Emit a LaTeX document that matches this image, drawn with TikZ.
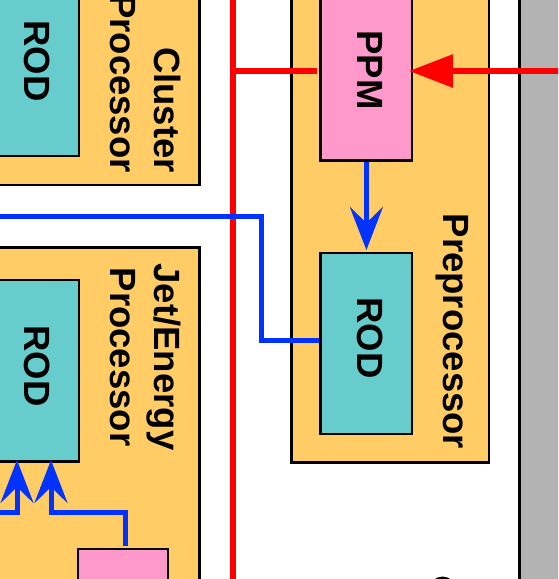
\documentclass[tikz,border=0pt]{standalone}
\usepackage{fontspec}
\setsansfont{Liberation Sans}
\usetikzlibrary{arrows.meta,positioning}
\definecolor{procorange}{HTML}{FFCC66}
\definecolor{rodteal}{HTML}{66CCCC}
\definecolor{ppmpink}{HTML}{FF99CC}
\definecolor{busred}{HTML}{FF0000}
\definecolor{readblue}{HTML}{0033FF}
\definecolor{crategray}{HTML}{B3B3B3}

\begin{document}
\begin{tikzpicture} [
    x=1pt, y=-1pt,
    box/.style={rectangle, draw=black, line width=2.8pt, inner sep=0pt, outer sep=0pt},
    orangebox/.style={box, fill=procorange},
    tealbox/.style={box, fill=rodteal},
    pinkbox/.style={box, fill=ppmpink},
    lbl/.style={rotate=-90, inner sep=0pt, font=\sffamily\bfseries\fontsize{36.5}{44}\selectfont},
    redbus/.style={draw=busred, line width=6pt},
    bluebus/.style={draw=readblue, line width=5pt},
    >={Stealth[length=43pt, width=33pt, inset=16pt]}
    ]
    \useasboundingbox (0,0) rectangle (558,579);
    \clip (0,0) rectangle (558,579);
    %Nodes
    \node[orangebox, minimum width=219.5pt, minimum height=205pt]   (clproc)  at (89.75,82.5)    {};
    \node[tealbox,   minimum width=99pt,    minimum height=176pt]   (clrod)   at (29.5,68)       {};
    \node[orangebox, minimum width=219.5pt, minimum height=352.5pt] (jetproc) at (89.75,423.75)  {};
    \node[tealbox,   minimum width=99pt,    minimum height=181.5pt] (jetrod)  at (29.5,370.75)   {};
    \node[pinkbox,   minimum width=90pt,    minimum height=71pt]    (jetmod)  at (123,584.5)     {};
    \node[orangebox, minimum width=197.7pt, minimum height=482.5pt] (preproc) at (390.15,221.25) {};
    \node[pinkbox,   minimum width=91.2pt,  minimum height=179pt]   (ppm)     at (366.4,71)      {};
    \node[tealbox,   minimum width=91.2pt,  minimum height=181pt]   (pprod)   at (366.4,343.5)   {};
    \node[box, fill=crategray, minimum width=80pt, minimum height=620pt] (crate) at (559.7,290) {};
    \draw[line width=2.5pt] (442.5,590.3) circle[radius=12.5pt];
    %Labels
    \node[lbl, anchor=base] (clrodlbl)  at (24.5,61)  {ROD};
    \node[lbl, anchor=base] (jetrodlbl) at (24.5,366) {ROD};
    \node[lbl, anchor=base] (ppmlbl)    at (357,70)   {PPM};
    \node[lbl, anchor=base] (pprodlbl)  at (357,338)  {ROD};
    \node[lbl, anchor=base] (preproclbl) at (443,331.5) {Preprocessor};
    \node[lbl, anchor=south east, align=right] (cllbl)  at (110,173) {Cluster\\Processor};
    \node[lbl, anchor=south, align=center]     (jetlbl) at (110,357) {Jet/Energy\\Processor};
    %Lines
    \coordinate (redtop) at (233,-10);
    \coordinate (redbot) at (233,590);
    \coordinate (redtap) at (233,71);
    \coordinate (redin) at (570,71);
    \draw[redbus] (redtop) -- (redbot);
    \draw[redbus, shorten >=4pt] (redtap) -- (ppm.west);
    \draw[redbus, -{Triangle[length=44pt, width=32pt]}, shorten >=-3pt] (redin) -- (ppm.east);
    \coordinate (bluein) at (-10,216);
    \coordinate (bluebend) at (261,340);
    \draw[bluebus, shorten >=1.5pt] (bluein) -| (bluebend) -- (bluebend -| pprod.west);
    \draw[bluebus, ->, shorten <=1.5pt, shorten >=3pt] (ppm.south) -- (pprod.north);
    \coordinate (jetin) at (-10,512);
    \coordinate (jetbend) at (125,512);
    \coordinate (jettip1) at (17,460);
    \coordinate (jettip2) at (51,460);
    \draw[bluebus, ->] (jetin) -| (jettip1);
    \draw[bluebus, ->, shorten <=3.5pt] (jetbend |- jetmod.north) -- (jetbend) -| (jettip2);
\end{tikzpicture}
\end{document}
